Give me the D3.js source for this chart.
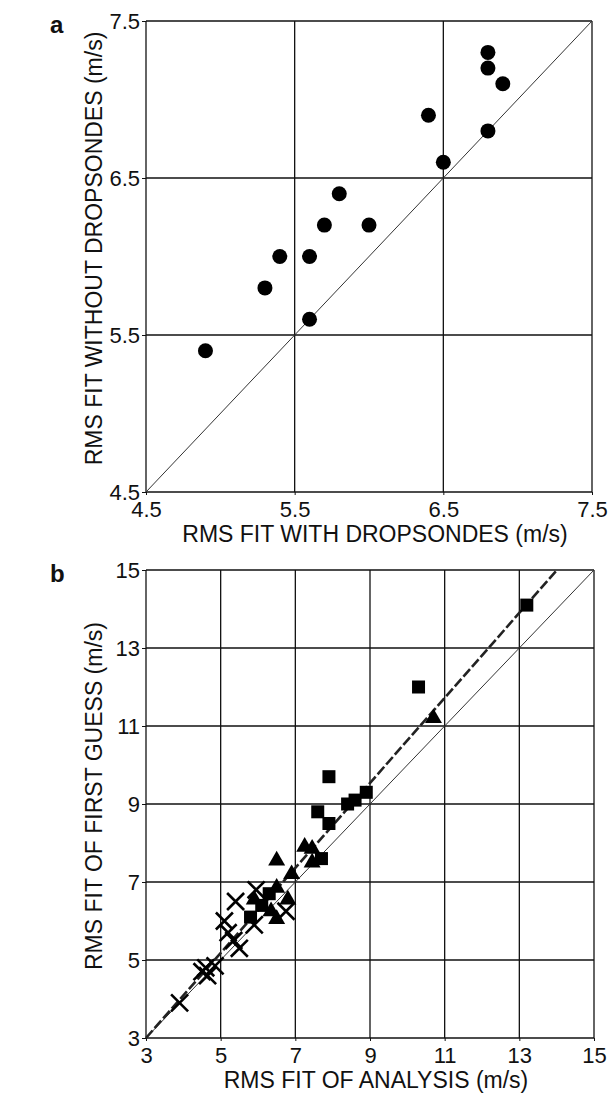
<!DOCTYPE html>
<html>
<head>
<meta charset="utf-8">
<script src="https://cdn.jsdelivr.net/npm/d3@7"></script>
<style>
  body { margin: 0; background: #fff; }
  svg text { font-family: "Liberation Sans", Arial, sans-serif; fill: #111; }
  .axis text { font-size: 22px; }
  .axis path, .axis line { stroke: #111; }
  .title { font-size: 23px; }
  .grid line { stroke: #111; stroke-width: 1.3; }
</style>
</head>
<body>
<svg id="chart" width="609" height="1097"></svg>
<script>
// panel a: rms fit with / without dropsondes
var withDrop    = [4.9, 5.3, 5.4, 5.6, 5.6, 5.7, 5.8, 6.0, 6.4, 6.5, 6.8, 6.8, 6.8, 6.9];
var withoutDrop = [5.4, 5.8, 6.0, 5.6, 6.0, 6.2, 6.4, 6.2, 6.9, 6.6, 7.3, 7.2, 6.8, 7.1];
var ticksA = [4.5, 5.5, 6.5, 7.5];

// panel b: analysis vs first guess, three groups
var crossAnl = [3.9, 4.5, 4.6, 4.65, 4.85, 5.1, 5.2, 5.35, 5.5, 5.4, 5.95, 5.9, 6.75];
var crossFg  = [3.9, 4.7, 4.8, 4.6, 4.85, 6.0, 5.7, 5.5, 5.3, 6.5, 6.8, 5.9, 6.25];
var triAnl = [10.7, 6.5, 7.25, 7.45, 7.45, 6.9, 6.5, 6.8, 5.9, 6.35, 6.5];
var triFg  = [11.2, 7.55, 7.9, 7.85, 7.5, 7.2, 6.85, 6.55, 6.55, 6.25, 6.05];
var sqAnl = [13.2, 10.3, 7.9, 8.4, 8.6, 8.9, 7.6, 7.9, 7.7, 6.3, 6.1, 5.8];
var sqFg  = [14.1, 12.0, 9.7, 9.0, 9.1, 9.3, 8.8, 8.5, 7.6, 6.7, 6.4, 6.1];
var ticksB = [3, 5, 7, 9, 11, 13, 15];
// fitted line (dashed) y = fitA + fitB * x
var fitA = -0.27, fitB = 1.09;

var svg = d3.select('#chart');

function panel(opt) {
    var x = d3.scaleLinear().domain(opt.domain).range([opt.left, opt.right]);
    var y = d3.scaleLinear().domain(opt.domain).range([opt.bottom, opt.top]);
    var g = svg.append('g');

    // grid + frame
    var grid = g.append('g').attr('class', 'grid');
    grid.selectAll('.vx')
        .data(opt.ticks)
        .enter().append('line')
        .attr('x1', d => x(d)).attr('x2', d => x(d))
        .attr('y1', opt.top).attr('y2', opt.bottom);
    grid.selectAll('.hy')
        .data(opt.ticks)
        .enter().append('line')
        .attr('y1', d => y(d)).attr('y2', d => y(d))
        .attr('x1', opt.left).attr('x2', opt.right);

    // 1:1 line
    g.append('line')
        .attr('x1', x(opt.domain[0])).attr('y1', y(opt.domain[0]))
        .attr('x2', x(opt.domain[1])).attr('y2', y(opt.domain[1]))
        .attr('stroke', '#333').attr('stroke-width', 1);

    var xAxis = d3.axisBottom(x).tickValues(opt.ticks).tickSize(3).tickPadding(6).tickFormat(opt.fmt);
    var yAxis = d3.axisLeft(y).tickValues(opt.ticks).tickSize(4).tickPadding(2).tickFormat(opt.fmt);

    g.append('g').attr('class', 'axis')
        .attr('transform', 'translate(0,' + opt.bottom + ')')
        .call(xAxis)
        .call(s => s.select('.domain').remove());
    g.append('g').attr('class', 'axis')
        .attr('transform', 'translate(' + opt.left + ',0)')
        .call(yAxis)
        .call(s => s.select('.domain').remove());

    g.append('text').attr('class', 'title')
        .attr('x', (opt.left + opt.right) / 2 + 6)
        .attr('y', opt.bottom + 50)
        .attr('text-anchor', 'middle')
        .text(opt.xlabel);
    g.append('text').attr('class', 'title')
        .attr('transform', 'translate(102,' + ((opt.top + opt.bottom) / 2 - 8) + ') rotate(-90)')
        .attr('text-anchor', 'middle')
        .text(opt.ylabel);

    g.append('text')
        .attr('x', 50).attr('y', opt.top + 12)
        .style('font-size', '24px')
        .style('font-weight', 'bold')
        .text(opt.letter);

    return { g: g, x: x, y: y };
}

// ---- panel a
var pa = panel({
    domain: [4.5, 7.5], ticks: ticksA, fmt: d3.format('.1f'),
    left: 146, right: 592, top: 21, bottom: 492,
    xlabel: 'RMS FIT WITH DROPSONDES (m/s)',
    ylabel: 'RMS FIT WITHOUT DROPSONDES (m/s)',
    letter: 'a'
});

pa.g.selectAll('.dot')
    .data(d3.range(withDrop.length))
    .enter().append('circle')
    .attr('cx', i => pa.x(withDrop[i]))
    .attr('cy', i => pa.y(withoutDrop[i]))
    .attr('r', 7.5)
    .attr('fill', '#000');

// ---- panel b
var pb = panel({
    domain: [3, 15], ticks: ticksB, fmt: d3.format('d'),
    left: 146, right: 594, top: 570, bottom: 1038,
    xlabel: 'RMS FIT OF ANALYSIS (m/s)',
    ylabel: 'RMS FIT OF FIRST GUESS (m/s)',
    letter: 'b'
});

// fitted dashed line, clipped to the box
var x0 = 3, x1 = (15 - fitA) / fitB;
pb.g.append('line')
    .attr('x1', pb.x(x0)).attr('y1', pb.y(fitA + fitB * x0))
    .attr('x2', pb.x(x1)).attr('y2', pb.y(fitA + fitB * x1))
    .attr('stroke', '#222').attr('stroke-width', 2.6)
    .attr('stroke-dasharray', '10,3');

pb.g.selectAll('.sq')
    .data(d3.range(sqAnl.length))
    .enter().append('rect')
    .attr('x', i => pb.x(sqAnl[i]) - 6.5)
    .attr('y', i => pb.y(sqFg[i]) - 6.5)
    .attr('width', 13).attr('height', 13)
    .attr('fill', '#000');

var tri = d3.symbol().type(d3.symbolTriangle).size(125);
pb.g.selectAll('.tri')
    .data(d3.range(triAnl.length))
    .enter().append('path')
    .attr('d', tri)
    .attr('transform', i => 'translate(' + pb.x(triAnl[i]) + ',' + pb.y(triFg[i]) + ')')
    .attr('fill', '#000');

var cross = d3.symbol().type(d3.symbolX).size(190);
pb.g.selectAll('.cross')
    .data(d3.range(crossAnl.length))
    .enter().append('path')
    .attr('d', cross)
    .attr('transform', i => 'translate(' + pb.x(crossAnl[i]) + ',' + pb.y(crossFg[i]) + ')')
    .attr('fill', 'none')
    .attr('stroke', '#000')
    .attr('stroke-width', 2.6);
</script>
</body>
</html>
